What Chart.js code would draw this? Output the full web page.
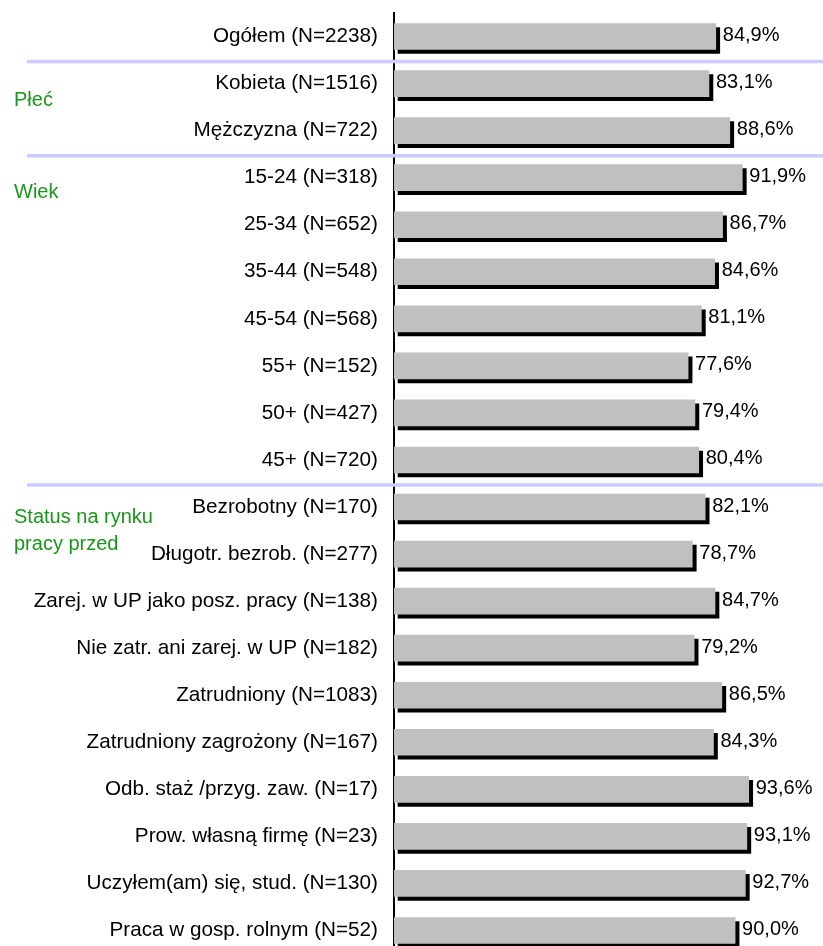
<!DOCTYPE html>
<html>
<head>
<meta charset="utf-8">
<script src="https://cdn.jsdelivr.net/npm/chart.js@4/dist/chart.umd.min.js"></script>
<style>
  html, body { margin: 0; padding: 0; background: #fff; overflow: hidden; }
  #wrap { width: 823px; height: 960px; position: relative; }
</style>
</head>
<body>
<div id="wrap"><canvas id="chart"></canvas></div>
<script>
// categories (top to bottom) and their values in %
const categories = [
  'Ogółem (N=2238)',
  'Kobieta (N=1516)',
  'Mężczyzna (N=722)',
  '15-24 (N=318)',
  '25-34 (N=652)',
  '35-44 (N=548)',
  '45-54 (N=568)',
  '55+ (N=152)',
  '50+ (N=427)',
  '45+ (N=720)',
  'Bezrobotny (N=170)',
  'Długotr. bezrob. (N=277)',
  'Zarej. w UP jako posz. pracy (N=138)',
  'Nie zatr. ani zarej. w UP (N=182)',
  'Zatrudniony (N=1083)',
  'Zatrudniony zagrożony (N=167)',
  'Odb. staż /przyg. zaw. (N=17)',
  'Prow. własną firmę (N=23)',
  'Uczyłem(am) się, stud. (N=130)',
  'Praca w gosp. rolnym (N=52)'
];
const values = [84.9, 83.1, 88.6, 91.9, 86.7, 84.6, 81.1, 77.6, 79.4, 80.4,
                82.1, 78.7, 84.7, 79.2, 86.5, 84.3, 93.6, 93.1, 92.7, 90.0];

// groups: index of the first row in each group, and group titles
const groupStarts = [1, 3, 10];
const groupTitles = [['Płeć'], ['Wiek'], ['Status na rynku', 'pracy przed']];

const FONT = "'Liberation Sans', Arial, sans-serif";
Chart.defaults.font.family = FONT;

// black drop shadow under the bars
const barShadow = {
  id: 'barShadow',
  beforeDatasetsDraw(chart) {
    const ctx = chart.ctx;
    ctx.save();
    ctx.shadowColor = '#000';
    ctx.shadowBlur = 0;
    ctx.shadowOffsetX = 4;
    ctx.shadowOffsetY = 4;
  },
  afterDatasetsDraw(chart) {
    chart.ctx.restore();
  }
};

// value labels, group separators and group titles
const extras = {
  id: 'extras',
  afterDraw(chart) {
    const ctx = chart.ctx;
    const yScale = chart.scales.y;
    const meta = chart.getDatasetMeta(0);

    ctx.save();
    ctx.font = '20px ' + FONT;
    ctx.fillStyle = '#000';
    ctx.textAlign = 'left';
    ctx.textBaseline = 'middle';
    meta.data.forEach((bar, i) => {
      const txt = values[i].toFixed(1).replace('.', ',') + '%';
      ctx.fillText(txt, bar.x + 7, bar.y - 1);
    });

    // separators between groups
    ctx.strokeStyle = '#ccccff';
    ctx.lineWidth = 3.5;
    groupStarts.forEach(idx => {
      const y = (yScale.getPixelForValue(idx - 1) + yScale.getPixelForValue(idx)) / 2 + 1.5;
      ctx.beginPath();
      ctx.moveTo(27, y);
      ctx.lineTo(chart.width, y);
      ctx.stroke();
    });

    // group titles
    const titleOffsets = [17, 15, 10];
    ctx.fillStyle = '#1a961a';
    groupStarts.forEach((idx, g) => {
      const y0 = yScale.getPixelForValue(idx) + titleOffsets[g];
      groupTitles[g].forEach((line, k) => {
        ctx.fillText(line, 14, y0 + k * 27);
      });
    });
    ctx.restore();
  }
};

new Chart(document.getElementById('chart'), {
  type: 'bar',
  data: {
    labels: categories,
    datasets: [{
      data: values,
      backgroundColor: '#c0c0c0',
      borderWidth: 0,
      barThickness: 26
    }]
  },
  options: {
    indexAxis: 'y',
    responsive: true,
    maintainAspectRatio: false,
    animation: false,
    layout: { padding: { top: 13, bottom: 6, left: 0, right: 50 } },
    plugins: {
      legend: { display: false },
      tooltip: { enabled: false }
    },
    scales: {
      x: {
        display: false,
        min: 0,
        max: 100
      },
      y: {
        afterFit(scale) {
          scale.width = 394;
          scale.paddingTop = 0;
          scale.paddingBottom = 0;
        },
        grid: { display: false, drawTicks: false },
        border: { display: true, color: '#000', width: 2 },
        ticks: {
          color: '#000',
          padding: 16,
          font: { size: 20.7 }
        }
      }
    }
  },
  plugins: [barShadow, extras]
});
</script>
</body>
</html>
